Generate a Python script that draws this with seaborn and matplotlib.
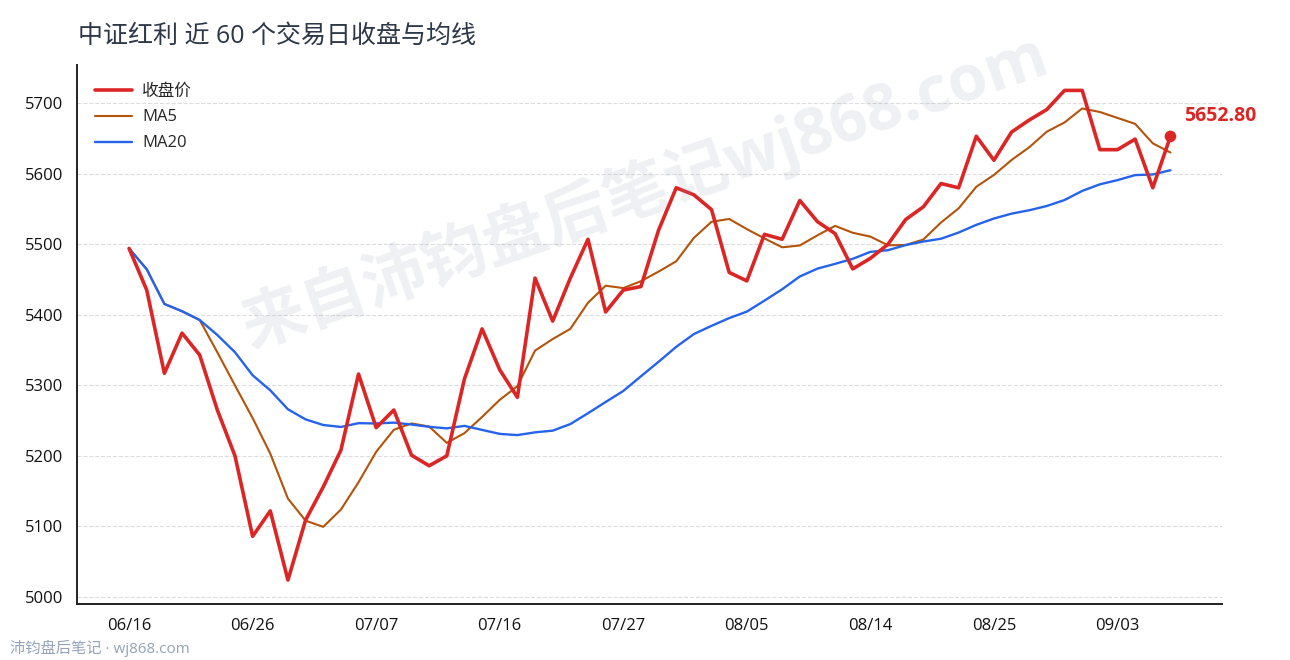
import pandas as pd
import matplotlib
matplotlib.use("Agg")
import matplotlib.pyplot as plt
import seaborn as sns

sns.set_theme(style="white")
plt.rcParams["font.family"] = ["Open Sans", "Noto Sans CJK SC", "DejaVu Sans"]
plt.rcParams["axes.unicode_minus"] = False

# closing prices, 60 trading days
close = [5494, 5435, 5317, 5374, 5343, 5265, 5200, 5086, 5122, 5024,
         5109, 5156, 5208, 5316, 5240, 5265, 5201, 5186, 5200, 5309,
         5380, 5322, 5283, 5452, 5391, 5452, 5507, 5404, 5435, 5440,
         5520, 5580, 5570, 5549, 5460, 5448, 5514, 5507, 5562, 5532,
         5515, 5465, 5480, 5500, 5535, 5553, 5586, 5580, 5653, 5619,
         5659, 5676, 5691, 5718, 5718, 5634, 5634, 5649, 5580, 5652.80]
tick_pos = [0, 7, 14, 21, 28, 35, 42, 49, 56]
tick_labels = ["06/16", "06/26", "07/07", "07/16", "07/27", "08/05", "08/14", "08/25", "09/03"]
y_ticks = [5000, 5100, 5200, 5300, 5400, 5500, 5600, 5700]

df = pd.DataFrame({"day": range(len(close)), "close": close})
# moving averages of the close series (as shown in the chart)
df["ma5"] = df["close"].rolling(5, min_periods=1).mean()
df["ma20"] = df["close"].rolling(20, min_periods=1).mean()

RED, ORANGE, BLUE = "#dc2626", "#b45309", "#2563eb"

fig = plt.figure(figsize=(12.9, 6.6), dpi=100)
ax = fig.add_axes([0.0597, 0.0848, 0.8873, 0.8167])

sns.lineplot(data=df, x="day", y="close", ax=ax, color=RED, lw=2.6, label="收盘价", zorder=4)
sns.lineplot(data=df, x="day", y="ma5", ax=ax, color=ORANGE, lw=1.5, label="MA5", zorder=3)
sns.lineplot(data=df, x="day", y="ma20", ax=ax, color=BLUE, lw=1.7, label="MA20", zorder=3)

last = df.iloc[-1]
sns.scatterplot(x=[last["day"]], y=[last["close"]], ax=ax, color=RED, s=70,
                edgecolor="none", zorder=5, legend=False)
ax.annotate(f"{last['close']:.2f}", xy=(last["day"], last["close"]), xytext=(10, 15),
            textcoords="offset points", color=RED, fontsize=14, fontweight="bold", va="center")

ax.set_xlim(-2.95, 61.9)
ax.set_ylim(4990, 5754)
ax.set_xticks(tick_pos)
ax.set_xticklabels(tick_labels)
ax.set_yticks(y_ticks)
ax.set_xlabel("")
ax.set_ylabel("")
ax.yaxis.grid(True, ls="--", color="#dddddd", lw=0.8)
ax.xaxis.grid(False)
for s in ["top", "right"]:
    ax.spines[s].set_visible(False)
for s in ["left", "bottom"]:
    ax.spines[s].set_color("#222222")
    ax.spines[s].set_linewidth(1.4)
ax.tick_params(direction="out", length=5, width=1.2, color="#222222",
               labelcolor="#111111", labelsize=12, pad=5)

ax.legend(loc="upper left", frameon=False, fontsize=12, handlelength=2.2,
          handletextpad=0.6, labelspacing=0.6, borderaxespad=0.7,
          bbox_to_anchor=(0.0, 1.0))

fig.text(0.0605, 0.945, "中证红利 近 60 个交易日收盘与均线", fontsize=18,
         color="#2d3748", va="center", ha="left")
fig.text(0.5, 0.71, "来自沛钧盘后笔记wj868.com", fontsize=46, fontweight="bold",
         color="#94a3b8", alpha=0.16, rotation=19, ha="center", va="center", zorder=0)
fig.text(10 / 1290, 1 - 648 / 660, "沛钧盘后笔记 · wj868.com", fontsize=11,
         color="#94a3b8", va="center", ha="left")

fig.savefig("out.png", dpi=100)
